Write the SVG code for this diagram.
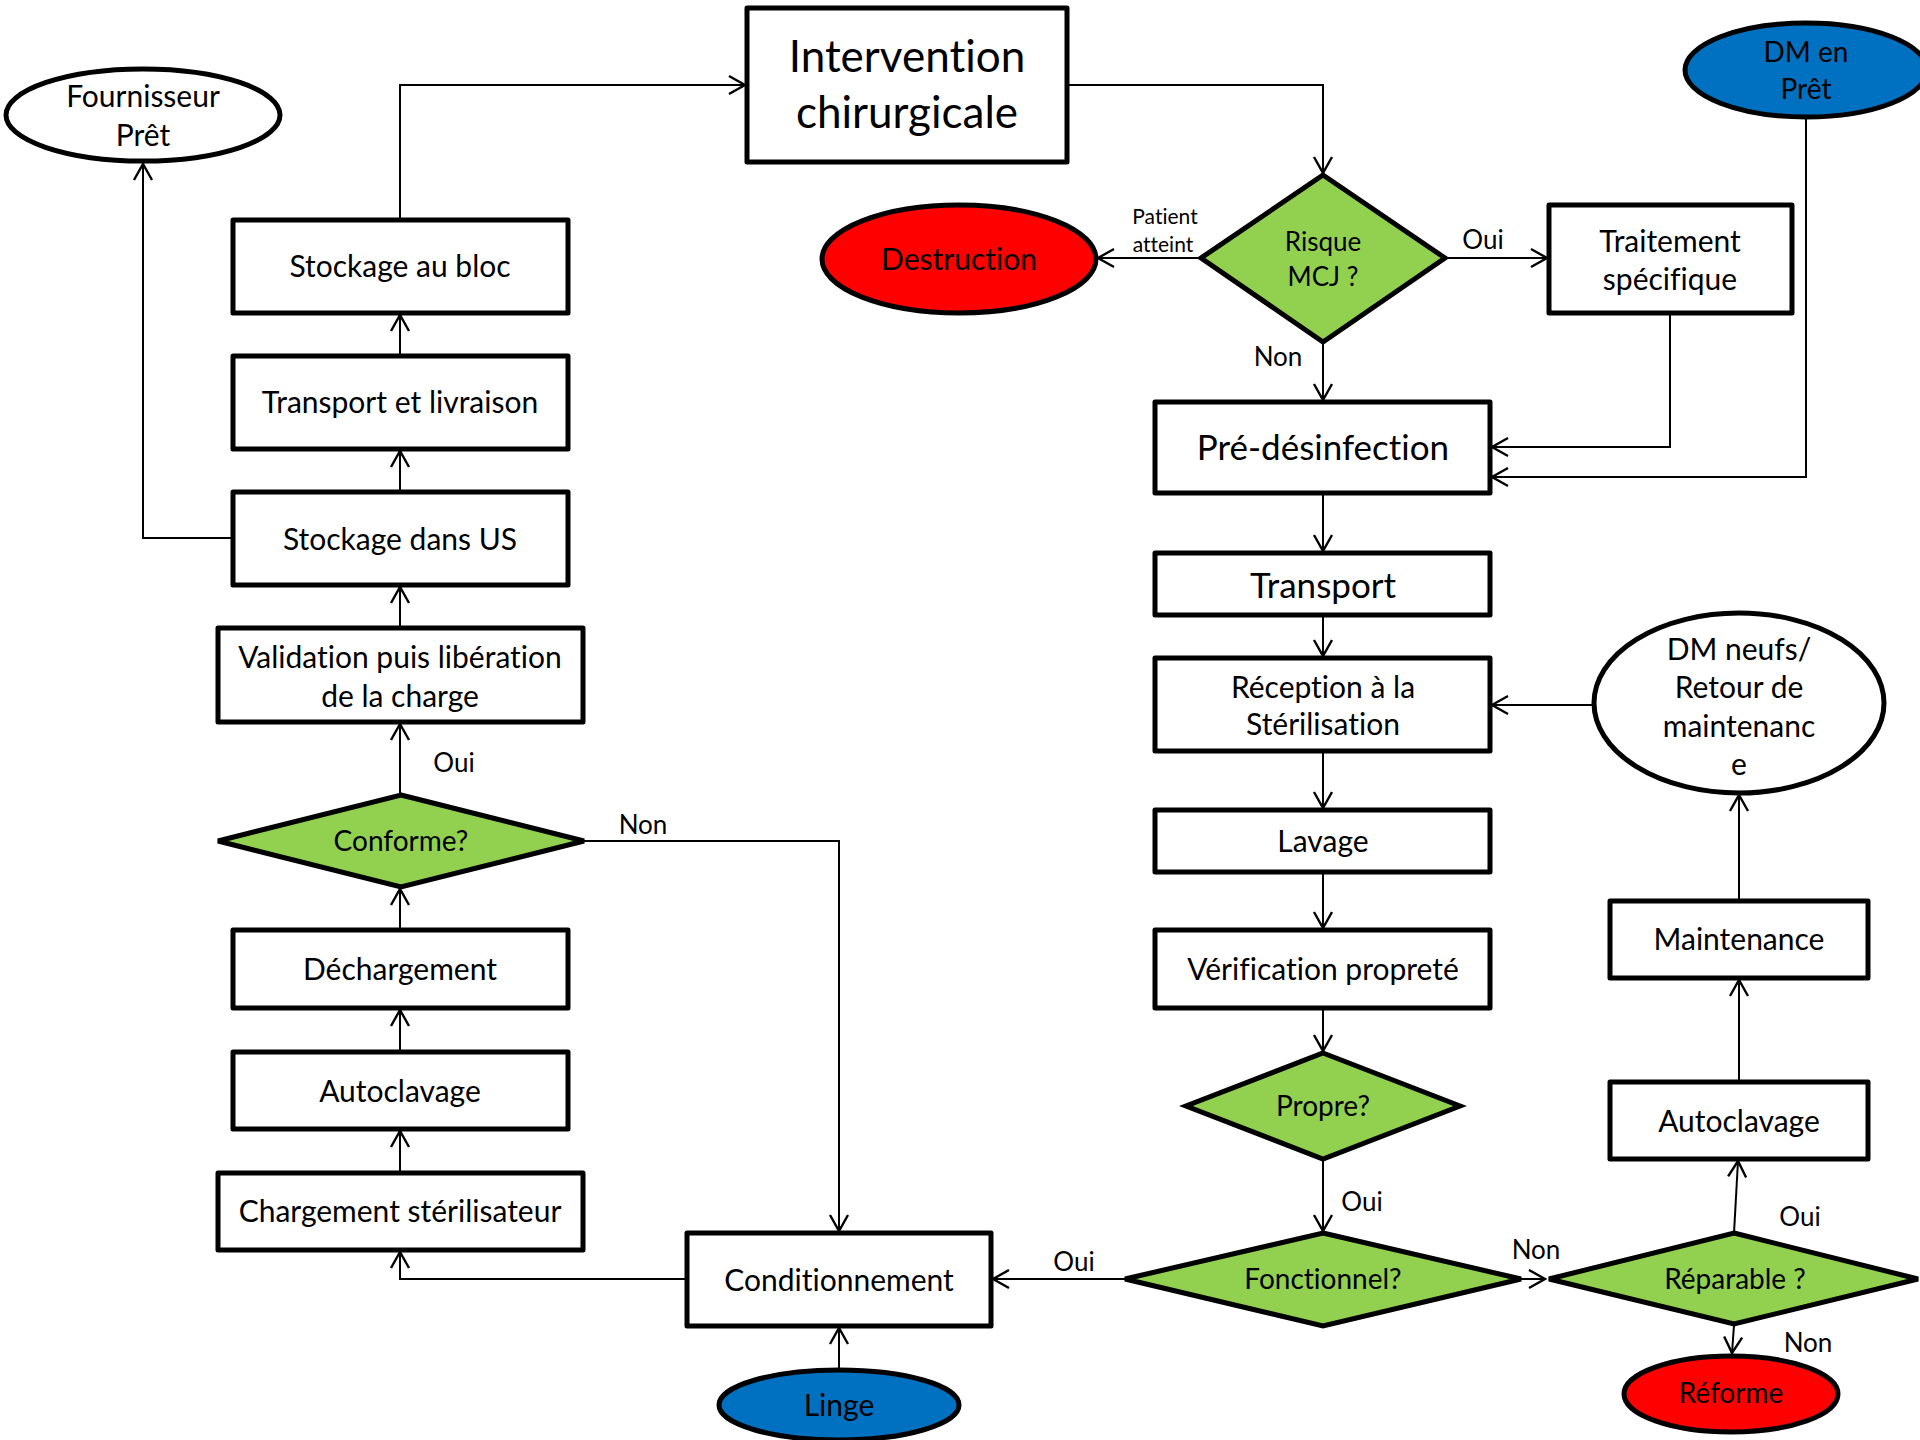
<svg xmlns="http://www.w3.org/2000/svg" width="1920" height="1440" viewBox="0 0 1920 1440">
<defs>
<marker id="arr" markerUnits="userSpaceOnUse" markerWidth="24" markerHeight="24" viewBox="-20 -12 24 24" refX="0" refY="0" orient="auto">
<path d="M-16,-9 L0,0 L-16,9" fill="none" stroke="#000" stroke-width="2.4"/>
</marker>
</defs>
<style>
.box{fill:#fff;stroke:#000;stroke-width:5;stroke-linejoin:round}
.dia{fill:#92D050;stroke:#000;stroke-width:5;stroke-linejoin:miter}
.ell{fill:#fff;stroke:#000;stroke-width:5}
.blue{fill:#0070C0;stroke:#000;stroke-width:5}
.red{fill:#FF0000;stroke:#000;stroke-width:5}
.c{fill:none;stroke:#000;stroke-width:2;marker-end:url(#arr)}
text{font-family:Lato,"Open Sans",sans-serif;fill:#000;text-anchor:middle;font-variant-ligatures:none;font-feature-settings:"liga" 0}
.t30{font-size:30px}
.t28{font-size:28px}
.t26{font-size:26px}
.t35{font-size:35px}
.t44{font-size:44px}
.t21{font-size:21px}
.lbl{font-size:26px}
</style>

<g id="connectors">
<line class="c" x1="400" y1="356" x2="400" y2="315"/>
<line class="c" x1="400" y1="492" x2="400" y2="451"/>
<line class="c" x1="400" y1="628" x2="400" y2="587"/>
<line class="c" x1="400" y1="795" x2="400" y2="724"/>
<line class="c" x1="400" y1="930" x2="400" y2="889"/>
<line class="c" x1="400" y1="1052" x2="400" y2="1010"/>
<line class="c" x1="400" y1="1173" x2="400" y2="1131"/>
<polyline class="c" points="233,538 143,538 143,164"/>
<polyline class="c" points="400,220 400,85 745,85"/>
<polyline class="c" points="1067,85 1323,85 1323,173"/>
<line class="c" x1="1201" y1="258" x2="1098" y2="258"/>
<line class="c" x1="1445" y1="258" x2="1547" y2="258"/>
<line class="c" x1="1323" y1="342" x2="1323" y2="400"/>
<polyline class="c" points="1670,313 1670,447 1492,447"/>
<polyline class="c" points="1806,117 1806,477 1492,477"/>
<line class="c" x1="1323" y1="493" x2="1323" y2="551"/>
<line class="c" x1="1323" y1="615" x2="1323" y2="656"/>
<line class="c" x1="1323" y1="751" x2="1323" y2="808"/>
<line class="c" x1="1323" y1="872" x2="1323" y2="928"/>
<line class="c" x1="1323" y1="1008" x2="1323" y2="1051"/>
<line class="c" x1="1323" y1="1159" x2="1323" y2="1231"/>
<line class="c" x1="1594" y1="705" x2="1492" y2="705"/>
<line class="c" x1="1125" y1="1279" x2="993" y2="1279"/>
<line class="c" x1="1521" y1="1279" x2="1545" y2="1279"/>
<line class="c" x1="1734" y1="1233" x2="1738" y2="1161"/>
<line class="c" x1="1739" y1="1082" x2="1739" y2="980"/>
<line class="c" x1="1739" y1="901" x2="1739" y2="795"/>
<line class="c" x1="1734" y1="1325" x2="1732" y2="1353"/>
<polyline class="c" points="584,841 839,841 839,1231"/>
<polyline class="c" points="687,1279 400,1279 400,1252"/>
<line class="c" x1="839" y1="1369" x2="839" y2="1328"/>
</g>

<g id="edge-labels">
<text class="t21" x="1165" y="224">Patient</text>
<text class="t21" x="1163" y="252">atteint</text>
<text class="lbl" x="1483" y="249">Oui</text>
<text class="lbl" x="1278" y="366">Non</text>
<text class="lbl" x="454" y="772">Oui</text>
<text class="lbl" x="643" y="834">Non</text>
<text class="lbl" x="1074" y="1271">Oui</text>
<text class="lbl" x="1362" y="1211">Oui</text>
<text class="lbl" x="1536" y="1259">Non</text>
<text class="lbl" x="1800" y="1226">Oui</text>
<text class="lbl" x="1808" y="1352">Non</text>
</g>

<g id="n-fournisseur">
<ellipse class="ell" cx="143" cy="115" rx="137" ry="46"/>
<text class="t30" x="143" y="107">Fournisseur</text>
<text class="t30" x="143" y="146">Prêt</text>
</g>
<g id="n-stockage-bloc">
<rect class="box" x="233" y="220" width="335" height="93"/>
<text class="t30" x="400" y="277">Stockage au bloc</text>
</g>
<g id="n-transport-livraison">
<rect class="box" x="233" y="356" width="335" height="93"/>
<text class="t30" x="400" y="413">Transport et livraison</text>
</g>
<g id="n-stockage-us">
<rect class="box" x="233" y="492" width="335" height="93"/>
<text class="t30" x="400" y="550">Stockage dans US</text>
</g>
<g id="n-validation">
<rect class="box" x="218" y="628" width="365" height="94"/>
<text class="t30" x="400" y="668">Validation puis libération</text>
<text class="t30" x="400" y="707">de la charge</text>
</g>
<g id="n-conforme">
<polygon class="dia" points="401,795 584,841 401,887 218,841"/>
<text class="t28" x="401" y="851">Conforme?</text>
</g>
<g id="n-dechargement">
<rect class="box" x="233" y="930" width="335" height="78"/>
<text class="t30" x="400" y="980">Déchargement</text>
</g>
<g id="n-autoclavage-left">
<rect class="box" x="233" y="1052" width="335" height="77"/>
<text class="t30" x="400" y="1102">Autoclavage</text>
</g>
<g id="n-chargement">
<rect class="box" x="218" y="1173" width="365" height="77"/>
<text class="t30" x="400" y="1222">Chargement stérilisateur</text>
</g>
<g id="n-conditionnement">
<rect class="box" x="687" y="1233" width="304" height="93"/>
<text class="t30" x="839" y="1291">Conditionnement</text>
</g>
<g id="n-linge">
<ellipse class="blue" cx="839" cy="1405" rx="120" ry="35"/>
<text class="t30" x="839" y="1416">Linge</text>
</g>
<g id="n-intervention">
<rect class="box" x="747" y="8" width="320" height="154"/>
<text class="t44" x="907" y="72">Intervention</text>
<text class="t44" x="907" y="128">chirurgicale</text>
</g>
<g id="n-destruction">
<ellipse class="red" cx="959" cy="259" rx="137" ry="54"/>
<text class="t30" x="959" y="270">Destruction</text>
</g>
<g id="n-risque">
<polygon class="dia" points="1323,175 1445,258 1323,342 1201,258"/>
<text class="t26" x="1323" y="251">Risque</text>
<text class="t26" x="1323" y="286">MCJ ?</text>
</g>
<g id="n-traitement">
<rect class="box" x="1549" y="205" width="243" height="108"/>
<text class="t30" x="1670" y="252">Traitement</text>
<text class="t30" x="1670" y="290">spécifique</text>
</g>
<g id="n-dm-pret">
<ellipse class="blue" cx="1806" cy="70" rx="121" ry="47"/>
<text class="t28" x="1806" y="62">DM en</text>
<text class="t28" x="1806" y="99">Prêt</text>
</g>
<g id="n-predesinfection">
<rect class="box" x="1155" y="402" width="335" height="91"/>
<text class="t35" x="1323" y="460">Pré-désinfection</text>
</g>
<g id="n-transport">
<rect class="box" x="1155" y="553" width="335" height="62"/>
<text class="t35" x="1323" y="598">Transport</text>
</g>
<g id="n-reception">
<rect class="box" x="1155" y="658" width="335" height="93"/>
<text class="t30" x="1323" y="698">Réception à la</text>
<text class="t30" x="1323" y="735">Stérilisation</text>
</g>
<g id="n-lavage">
<rect class="box" x="1155" y="810" width="335" height="62"/>
<text class="t30" x="1323" y="852">Lavage</text>
</g>
<g id="n-verification">
<rect class="box" x="1155" y="930" width="335" height="78"/>
<text class="t30" x="1323" y="980">Vérification propreté</text>
</g>
<g id="n-propre">
<polygon class="dia" points="1323,1053 1460,1106 1323,1159 1186,1106"/>
<text class="t28" x="1323" y="1116">Propre?</text>
</g>
<g id="n-fonctionnel">
<polygon class="dia" points="1323,1233 1521,1279 1323,1326 1125,1279"/>
<text class="t28" x="1323" y="1289">Fonctionnel?</text>
</g>
<g id="n-reparable">
<polygon class="dia" points="1734,1233 1918,1279 1734,1324 1549,1279"/>
<text class="t28" x="1735" y="1289">Réparable ?</text>
</g>
<g id="n-reforme">
<ellipse class="red" cx="1731" cy="1394" rx="107" ry="38"/>
<text class="t28" x="1731" y="1403">Réforme</text>
</g>
<g id="n-autoclavage-right">
<rect class="box" x="1610" y="1082" width="258" height="77"/>
<text class="t30" x="1739" y="1132">Autoclavage</text>
</g>
<g id="n-maintenance">
<rect class="box" x="1610" y="901" width="258" height="77"/>
<text class="t30" x="1739" y="950">Maintenance</text>
</g>
<g id="n-dm-neufs">
<ellipse class="ell" cx="1739" cy="703" rx="145" ry="90"/>
<text class="t30" x="1739" y="660">DM neufs/</text>
<text class="t30" x="1739" y="698">Retour de</text>
<text class="t30" x="1739" y="737">maintenanc</text>
<text class="t30" x="1739" y="775">e</text>
</g>
</svg>
